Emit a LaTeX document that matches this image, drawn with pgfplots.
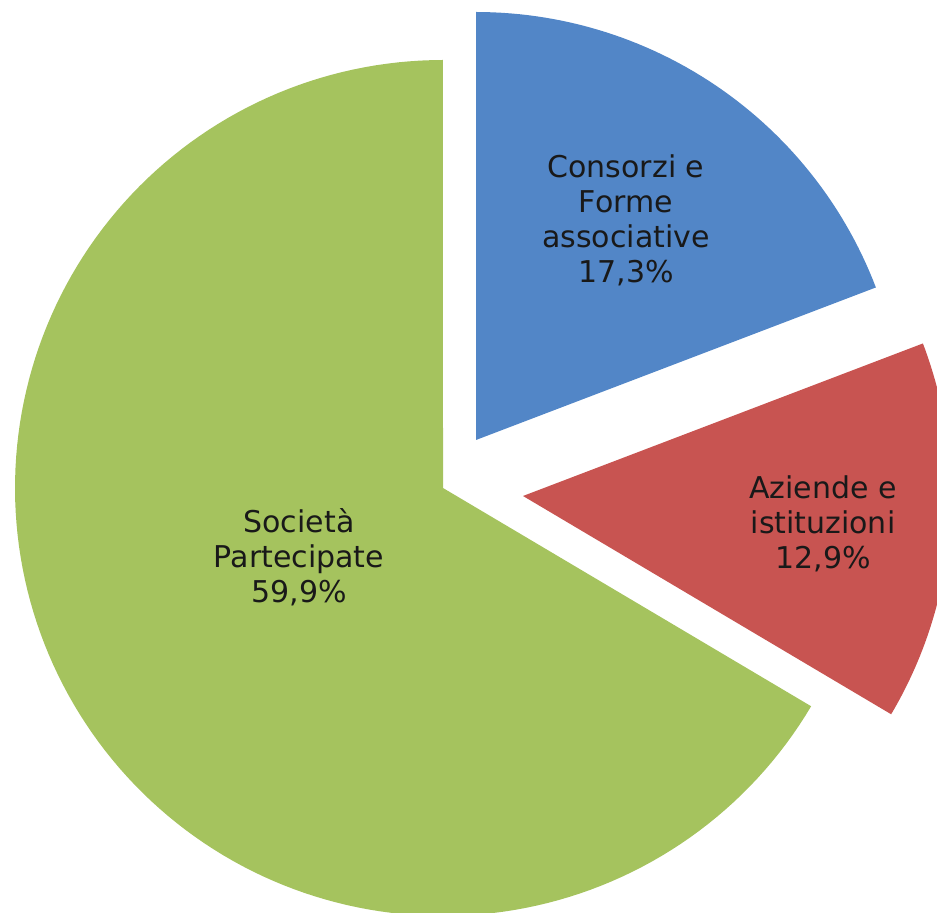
\documentclass[border=0pt]{standalone}
\usepackage{pgfplots}
\pgfplotsset{compat=1.18}
\usepackage{pgfplotstable}
\usepackage{fontspec}
\setmainfont{DejaVu Sans}

\definecolor{pieblue}{RGB}{82,134,199}
\definecolor{piered}{RGB}{200,84,81}
\definecolor{piegreen}{RGB}{165,195,94}

% shares as printed on the slices (Excel normalises them to the sum)
\pgfplotstableread{
value
17.3
12.9
59.9
}\piedata

\tikzset{slicelabel/.style={font=\fontsize{15}{17.5}\selectfont, align=center, text=black!90, inner sep=0pt}}

\begin{document}
\begin{tikzpicture}
\pgfplotstablegetelem{0}{value}\of\piedata \let\va\pgfplotsretval
\pgfplotstablegetelem{1}{value}\of\piedata \let\vb\pgfplotsretval
\pgfplotstablegetelem{2}{value}\of\piedata \let\vc\pgfplotsretval
\pgfmathsetmacro\tot{\va+\vb+\vc}
\pgfmathsetmacro\aA{90-(\va/\tot)*360}
\pgfmathsetmacro\aB{\aA-(\vb/\tot)*360}
\pgfmathsetmacro\aC{\aB-(\vc/\tot)*360}
\begin{axis}[
  scale only axis,
  width=468.5pt, height=456.5pt,
  xmin=0, xmax=937, ymin=0, ymax=913,
  axis line style={draw=none},
  ticks=none,
  clip=true,
]
% Consorzi e Forme associative (exploded)
\addplot[draw=none, fill=pieblue, domain=\aA:90, samples=60, variable=\t]
  ({476+428*cos(t)}, {473+428*sin(t)}) -- (axis cs:476,473) -- cycle;
% Aziende e istituzioni (exploded)
\addplot[draw=none, fill=piered, domain=\aB:\aA, samples=60, variable=\t]
  ({523+428*cos(t)}, {417+428*sin(t)}) -- (axis cs:523,417) -- cycle;
% Societa Partecipate
\addplot[draw=none, fill=piegreen, domain=\aC:\aB, samples=160, variable=\t]
  ({443+428*cos(t)}, {425+428*sin(t)}) -- (axis cs:443,425) -- cycle;

\node[slicelabel] at (axis cs:626,693) {Consorzi e\\Forme\\associative\\17,3\%};
\node[slicelabel] at (axis cs:823,389) {Aziende e\\istituzioni\\12,9\%};
\node[slicelabel] at (axis cs:299,356) {Società\\Partecipate\\59,9\%};
\end{axis}
\end{tikzpicture}
\end{document}
